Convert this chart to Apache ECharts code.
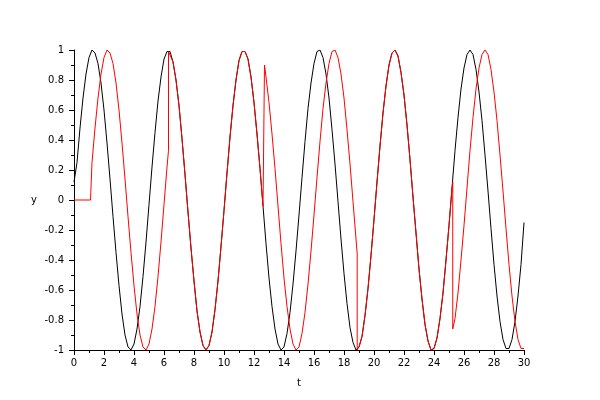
<!DOCTYPE html>
<html>
<head>
<meta charset="utf-8">
<script src="https://cdn.jsdelivr.net/npm/echarts@6/dist/echarts.min.js"></script>
<style>html,body{margin:0;padding:0;background:#fff}#c{width:600px;height:400px}</style>
</head>
<body>
<div id="c"></div>
<script>
// sampling step of the curves (t)
const tStep = 0.2;
// black curve, sampled at t = 0, 0.2, ..., 30
const blackY = [0.12,0.25,0.48,0.68,0.84,0.95,1.00,0.98,0.91,0.78,0.60,0.38,0.14,-0.11,-0.35,-0.57,-0.76,-0.90,-0.98,-1.00,
-0.96,-0.86,-0.71,-0.51,-0.28,-0.03,0.22,0.45,0.66,0.82,0.94,0.99,0.99,0.92,0.80,0.63,0.41,0.17,-0.08,-0.32,
-0.54,-0.74,-0.88,-0.97,-1.00,-0.97,-0.88,-0.73,-0.54,-0.31,-0.07,0.18,0.42,0.63,0.80,0.93,0.99,0.99,0.94,0.82,
0.65,0.44,0.21,-0.04,-0.29,-0.52,-0.71,-0.86,-0.96,-1.00,-0.98,-0.89,-0.75,-0.56,-0.34,-0.10,0.15,0.39,0.61,0.78,
0.91,0.99,1.00,0.95,0.84,0.68,0.47,0.24,-0.01,-0.26,-0.49,-0.69,-0.85,-0.95,-1.00,-0.98,-0.91,-0.77,-0.59,-0.37,
-0.13,0.12,0.36,0.58,0.76,0.90,0.98,1.00,0.96,0.85,0.70,0.50,0.27,0.02,-0.22,-0.46,-0.66,-0.83,-0.94,-1.00,
-0.99,-0.92,-0.79,-0.62,-0.40,-0.17,0.08,0.33,0.55,0.74,0.88,0.97,1.00,0.97,0.87,0.72,0.53,0.30,0.06,-0.19,
-0.43,-0.64,-0.81,-0.93,-0.99,-0.99,-0.93,-0.81,-0.64,-0.43,-0.15];

// red curve: uniform segments (start t, values) and the jump points between them
const redLead = [[0, 0], [1.1, 0]];
const redSegStart = [1.2, 6.4, 12.8, 19.0, 25.4];
const redSegA = [0.25,0.48,0.68,0.84,0.95,1.00,0.98,0.91,0.78,0.60,0.38,0.14,-0.11,-0.35,-0.57,-0.76,-0.90,-0.98,-1.00,-0.96,-0.86,-0.71,-0.51,-0.28,-0.03,0.22];
const redJump1 = [[6.3, 0.33], [6.3, 0.99]];
const redSegB = [0.99,0.92,0.80,0.63,0.41,0.17,-0.08,-0.32,-0.54,-0.74,-0.88,-0.97,-1.00,-0.97,-0.88,-0.73,-0.54,-0.31,-0.07,0.18,0.42,0.63,0.80,0.93,0.99,0.99,0.94,0.82,0.65,0.44,0.21,-0.04];
const redJump2 = [[12.7, 0.90]];
const redSegC = [0.82,0.65,0.44,0.21,-0.04,-0.29,-0.52,-0.71,-0.86,-0.96,-1.00,-0.98,-0.89,-0.75,-0.56,-0.34,-0.10,0.15,0.39,0.61,0.78,0.91,0.99,1.00,0.95,0.84,0.68,0.47,0.24,-0.01,-0.26];
const redJump3 = [[18.88, -0.36], [18.88, -1.00]];
const redSegD = [-0.98,-0.91,-0.77,-0.59,-0.37,-0.13,0.12,0.36,0.58,0.76,0.90,0.98,1.00,0.96,0.85,0.70,0.50,0.27,0.02,-0.22,-0.46,-0.66,-0.83,-0.94,-1.00,-0.99,-0.92,-0.79,-0.62,-0.40,-0.17,0.08];
const redJump4 = [[25.25, 0.12], [25.25, -0.86]];
const redSegE = [-0.79,-0.62,-0.40,-0.17,0.08,0.33,0.55,0.74,0.88,0.97,1.00,0.97,0.87,0.72,0.53,0.30,0.06,-0.19,-0.43,-0.64,-0.81,-0.93,-0.99,-0.99];

const xTicks = {min: 0, max: 30, interval: 2};
const yTicks = {min: -1, max: 1, interval: 0.2};

function seg(t0, ys) { return ys.map((y, i) => [+(t0 + i * tStep).toFixed(3), y]); }
const blackData = seg(0, blackY);
const redData = [].concat(
  redLead, seg(redSegStart[0], redSegA), redJump1,
  seg(redSegStart[1], redSegB), redJump2,
  seg(redSegStart[2], redSegC), redJump3,
  seg(redSegStart[3], redSegD), redJump4,
  seg(redSegStart[4], redSegE)
);

const font = 'DejaVu Sans';
const axisCommon = {
  axisLine: {show: true, onZero: false, lineStyle: {color: '#000', width: 1}},
  axisTick: {show: true, length: 5, lineStyle: {color: '#000'}},
  minorTick: {show: true, splitNumber: 2, length: 3, lineStyle: {color: '#000'}},
  splitLine: {show: false},
  minorSplitLine: {show: false},
  nameTextStyle: {color: '#000', fontFamily: font, fontSize: 10}
};
const chart = echarts.init(document.getElementById('c'), null, {renderer: 'canvas'});
chart.setOption({
  animation: false,
  backgroundColor: '#fff',
  grid: {left: 74, right: 76, top: 50, bottom: 50, containLabel: false},
  xAxis: Object.assign({
    type: 'value', min: xTicks.min, max: xTicks.max, interval: xTicks.interval,
    name: 't', nameLocation: 'middle', nameGap: 28,
    axisLabel: {color: '#000', fontFamily: font, fontSize: 10, margin: 8}
  }, axisCommon),
  yAxis: Object.assign({
    type: 'value', min: yTicks.min, max: yTicks.max, interval: yTicks.interval,
    name: 'y', nameLocation: 'middle', nameGap: 37, nameRotate: 0,
    axisLabel: {color: '#000', fontFamily: font, fontSize: 10, margin: 10,
      formatter: v => String(Math.round(v * 10) / 10)}
  }, axisCommon),
  series: [
    {type: 'line', data: blackData, showSymbol: false, lineStyle: {color: '#000', width: 1}, itemStyle: {color: '#000'}},
    {type: 'line', data: redData, showSymbol: false, lineStyle: {color: '#ff0000', width: 1}, itemStyle: {color: '#ff0000'}}
  ]
});
</script>
</body>
</html>
